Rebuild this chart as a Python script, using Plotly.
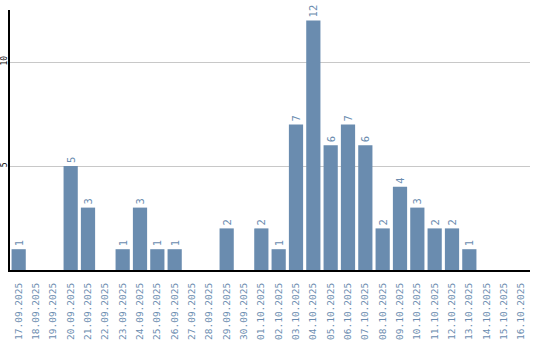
import plotly.graph_objects as go

dates = ["17.09.2025", "18.09.2025", "19.09.2025", "20.09.2025", "21.09.2025",
         "22.09.2025", "23.09.2025", "24.09.2025", "25.09.2025", "26.09.2025",
         "27.09.2025", "28.09.2025", "29.09.2025", "30.09.2025", "01.10.2025",
         "02.10.2025", "03.10.2025", "04.10.2025", "05.10.2025", "06.10.2025",
         "07.10.2025", "08.10.2025", "09.10.2025", "10.10.2025", "11.10.2025",
         "12.10.2025", "13.10.2025", "14.10.2025", "15.10.2025", "16.10.2025"]
counts = [1, 0, 0, 5, 3, 0, 1, 3, 1, 1, 0, 0, 2, 0, 2,
          1, 7, 12, 6, 7, 6, 2, 4, 3, 2, 2, 1, 0, 0, 0]

labels = [str(v) if v > 0 else "" for v in counts]

bar_color = "#6a8caf"
mono = "DejaVu Sans Mono"

fig = go.Figure(go.Bar(
    x=dates, y=counts, marker_color=bar_color, marker_line_width=0,
    text=labels, textposition="outside", textangle=-90,
    textfont=dict(family=mono, size=10.5, color=bar_color),
    cliponaxis=False, hoverinfo="x+y",
))

fig.update_layout(
    width=540, height=340,
    margin=dict(l=10, r=10, t=10, b=70, autoexpand=False),
    paper_bgcolor="white", plot_bgcolor="white",
    bargap=0.18, showlegend=False,
    xaxis=dict(type="category", tickangle=-90, showgrid=False, automargin=False,
               showline=True, linecolor="black", linewidth=2,
               ticks="", ticklabelstandoff=7,
               tickfont=dict(family=mono, size=9.5, color=bar_color)),
    yaxis=dict(range=[0, 12.5], tickvals=[5, 10], ticktext=["5", "10"],
               tickangle=-90, showgrid=True, gridcolor="#c8c8c8", gridwidth=1,
               showline=True, linecolor="black", linewidth=2, zeroline=False,
               automargin=False, ticks="", ticklabelstandoff=-2,
               tickfont=dict(family=mono, size=8, color="black")),
)

fig.write_html("out.html")
